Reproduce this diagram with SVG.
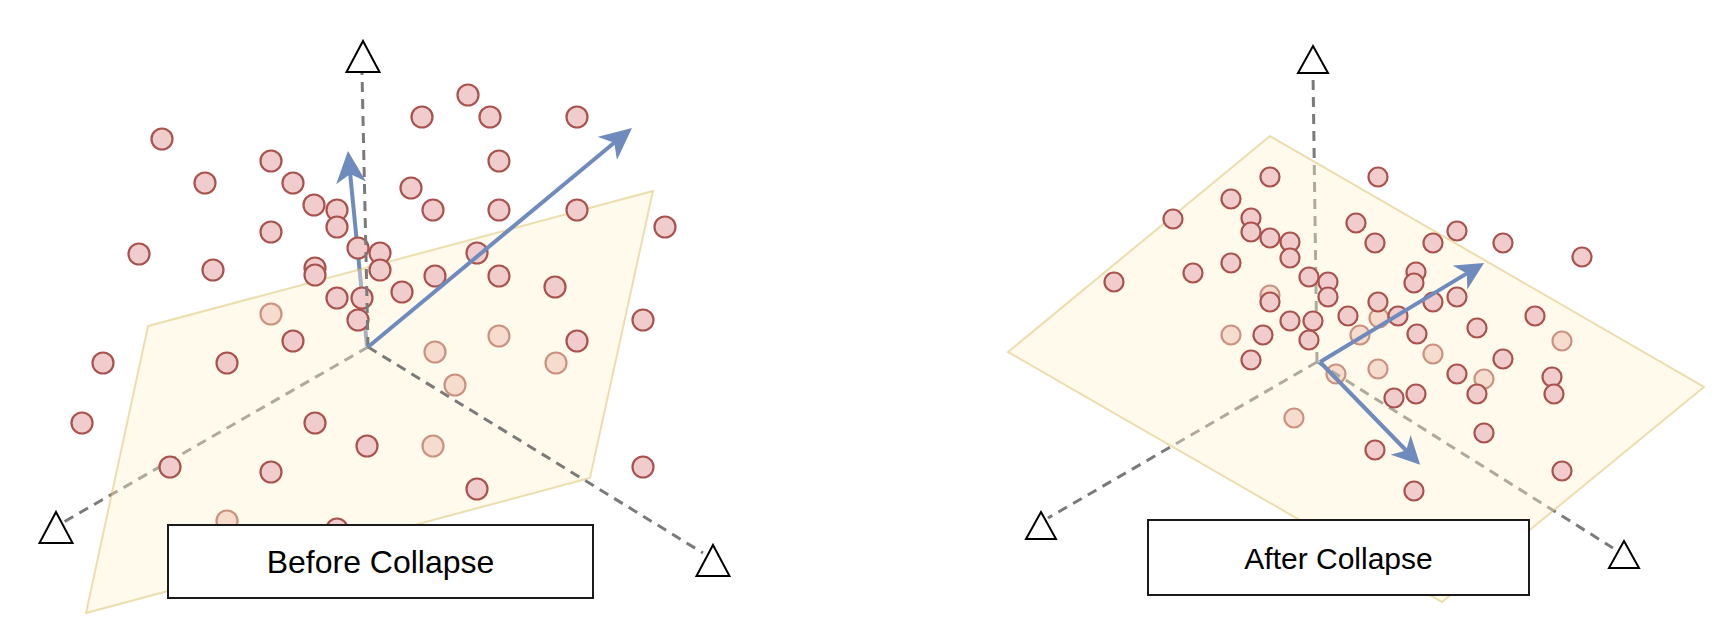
<svg xmlns="http://www.w3.org/2000/svg" width="1728" height="640" viewBox="0 0 1728 640">
<style>
.pt{fill:#f0cdcc;stroke:#a9524e;stroke-width:2.2}
.plane{fill:#fff2cc;fill-opacity:0.4;stroke:#d6b656;stroke-opacity:0.45;stroke-width:2}
.axis{fill:none;stroke:#7a7a7a;stroke-width:3;stroke-dasharray:10 7}
.vec{fill:none;stroke:#6f8bbd;stroke-width:4}
.tri{fill:#ffffff;stroke:#000000;stroke-width:2;stroke-linejoin:miter}
.box{fill:#ffffff;stroke:#1a1a1a;stroke-width:2}
.lbl{font-family:"Liberation Sans",Arial,Helvetica,sans-serif;fill:#000000;text-anchor:middle;dominant-baseline:central}
</style>
<defs>
<marker id="headL" viewBox="0 0 32 30" markerWidth="32" markerHeight="30" refX="12" refY="15" orient="auto" markerUnits="userSpaceOnUse">
<path d="M0,0 L32,15 L0,30 L9,15 z" fill="#6f8bbd"/>
</marker>
<marker id="headR" viewBox="0 0 28 28" markerWidth="28" markerHeight="28" refX="8" refY="14" orient="auto" markerUnits="userSpaceOnUse">
<path d="M0,0 L28,14 L0,28 L8,14 z" fill="#6f8bbd"/>
</marker>
</defs>

<g id="points-behind">
<g id="left-behind">
<circle class="pt" cx="271" cy="314" r="10.5"/>
<circle class="pt" cx="227" cy="521" r="10.5"/>
<circle class="pt" cx="499" cy="336" r="10.5"/>
<circle class="pt" cx="435" cy="352" r="10.5"/>
<circle class="pt" cx="455" cy="385" r="10.5"/>
<circle class="pt" cx="556" cy="363" r="10.5"/>
<circle class="pt" cx="433" cy="446" r="10.5"/>
</g>
<g id="right-behind">
<circle class="pt" cx="1270" cy="295" r="9.5"/>
<circle class="pt" cx="1231" cy="335" r="9.5"/>
<circle class="pt" cx="1360" cy="335" r="9.5"/>
<circle class="pt" cx="1379" cy="318" r="9.5"/>
<circle class="pt" cx="1562" cy="341" r="9.5"/>
<circle class="pt" cx="1433" cy="354" r="9.5"/>
<circle class="pt" cx="1336" cy="374" r="9.5"/>
<circle class="pt" cx="1378" cy="369" r="9.5"/>
<circle class="pt" cx="1484" cy="379" r="9.5"/>
<circle class="pt" cx="1294" cy="418" r="9.5"/>
</g>
</g>

<g id="connectors-back">
<line class="axis" x1="368" y1="347" x2="62" y2="523"/>
<line class="vec" x1="367" y1="346" x2="349.9" y2="170.9" marker-end="url(#headL)"/>
<line class="axis" x1="1317" y1="362" x2="1313" y2="73"/>
<line class="axis" x1="1317" y1="362" x2="1048" y2="518"/>
<line class="axis" x1="1317" y1="362" x2="1613" y2="548"/>
</g>

<g id="plane-before">
<polygon class="plane" points="148,326 653,191 590,478 86,613"/>
</g>
<g id="plane-after">
<polygon class="plane" points="1270,136 1704,387 1442,602 1008,352"/>
</g>

<g id="points-front">
<g id="left-points">
<circle class="pt" cx="162" cy="139" r="10.5"/>
<circle class="pt" cx="205" cy="183" r="10.5"/>
<circle class="pt" cx="271" cy="161" r="10.5"/>
<circle class="pt" cx="293" cy="183" r="10.5"/>
<circle class="pt" cx="314" cy="205" r="10.5"/>
<circle class="pt" cx="337" cy="210" r="10.5"/>
<circle class="pt" cx="337" cy="227" r="10.5"/>
<circle class="pt" cx="271" cy="232" r="10.5"/>
<circle class="pt" cx="139" cy="254" r="10.5"/>
<circle class="pt" cx="213" cy="270" r="10.5"/>
<circle class="pt" cx="315" cy="268" r="10.5"/>
<circle class="pt" cx="315" cy="275" r="10.5"/>
<circle class="pt" cx="358" cy="248" r="10.5"/>
<circle class="pt" cx="380" cy="253" r="10.5"/>
<circle class="pt" cx="380" cy="270" r="10.5"/>
<circle class="pt" cx="337" cy="298" r="10.5"/>
<circle class="pt" cx="362" cy="298" r="10.5"/>
<circle class="pt" cx="402" cy="292" r="10.5"/>
<circle class="pt" cx="435" cy="276" r="10.5"/>
<circle class="pt" cx="358" cy="320" r="10.5"/>
<circle class="pt" cx="293" cy="341" r="10.5"/>
<circle class="pt" cx="227" cy="363" r="10.5"/>
<circle class="pt" cx="103" cy="363" r="10.5"/>
<circle class="pt" cx="82" cy="423" r="10.5"/>
<circle class="pt" cx="315" cy="423" r="10.5"/>
<circle class="pt" cx="170" cy="467" r="10.5"/>
<circle class="pt" cx="271" cy="472" r="10.5"/>
<circle class="pt" cx="367" cy="446" r="10.5"/>
<circle class="pt" cx="477" cy="489" r="10.5"/>
<circle class="pt" cx="643" cy="467" r="10.5"/>
<circle class="pt" cx="337" cy="529" r="10.5"/>
<circle class="pt" cx="422" cy="117" r="10.5"/>
<circle class="pt" cx="468" cy="95" r="10.5"/>
<circle class="pt" cx="490" cy="117" r="10.5"/>
<circle class="pt" cx="577" cy="117" r="10.5"/>
<circle class="pt" cx="499" cy="161" r="10.5"/>
<circle class="pt" cx="411" cy="188" r="10.5"/>
<circle class="pt" cx="433" cy="210" r="10.5"/>
<circle class="pt" cx="499" cy="210" r="10.5"/>
<circle class="pt" cx="577" cy="210" r="10.5"/>
<circle class="pt" cx="665" cy="227" r="10.5"/>
<circle class="pt" cx="477" cy="253" r="10.5"/>
<circle class="pt" cx="499" cy="276" r="10.5"/>
<circle class="pt" cx="555" cy="287" r="10.5"/>
<circle class="pt" cx="643" cy="320" r="10.5"/>
<circle class="pt" cx="577" cy="341" r="10.5"/>
</g>
<g id="right-points">
<circle class="pt" cx="1270" cy="177" r="9.5"/>
<circle class="pt" cx="1231" cy="199" r="9.5"/>
<circle class="pt" cx="1173" cy="219" r="9.5"/>
<circle class="pt" cx="1251" cy="218" r="9.5"/>
<circle class="pt" cx="1251" cy="232" r="9.5"/>
<circle class="pt" cx="1270" cy="238" r="9.5"/>
<circle class="pt" cx="1290" cy="242" r="9.5"/>
<circle class="pt" cx="1290" cy="258" r="9.5"/>
<circle class="pt" cx="1231" cy="263" r="9.5"/>
<circle class="pt" cx="1193" cy="273" r="9.5"/>
<circle class="pt" cx="1114" cy="282" r="9.5"/>
<circle class="pt" cx="1309" cy="277" r="9.5"/>
<circle class="pt" cx="1328" cy="282" r="9.5"/>
<circle class="pt" cx="1328" cy="297" r="9.5"/>
<circle class="pt" cx="1270" cy="302" r="9.5"/>
<circle class="pt" cx="1356" cy="223" r="9.5"/>
<circle class="pt" cx="1378" cy="177" r="9.5"/>
<circle class="pt" cx="1375" cy="243" r="9.5"/>
<circle class="pt" cx="1433" cy="243" r="9.5"/>
<circle class="pt" cx="1457" cy="231" r="9.5"/>
<circle class="pt" cx="1503" cy="243" r="9.5"/>
<circle class="pt" cx="1582" cy="257" r="9.5"/>
<circle class="pt" cx="1416" cy="272" r="9.5"/>
<circle class="pt" cx="1414" cy="283" r="9.5"/>
<circle class="pt" cx="1378" cy="302" r="9.5"/>
<circle class="pt" cx="1433" cy="302" r="9.5"/>
<circle class="pt" cx="1457" cy="297" r="9.5"/>
<circle class="pt" cx="1348" cy="316" r="9.5"/>
<circle class="pt" cx="1398" cy="316" r="9.5"/>
<circle class="pt" cx="1290" cy="321" r="9.5"/>
<circle class="pt" cx="1313" cy="321" r="9.5"/>
<circle class="pt" cx="1309" cy="340" r="9.5"/>
<circle class="pt" cx="1263" cy="335" r="9.5"/>
<circle class="pt" cx="1251" cy="360" r="9.5"/>
<circle class="pt" cx="1417" cy="334" r="9.5"/>
<circle class="pt" cx="1477" cy="328" r="9.5"/>
<circle class="pt" cx="1535" cy="316" r="9.5"/>
<circle class="pt" cx="1503" cy="359" r="9.5"/>
<circle class="pt" cx="1457" cy="374" r="9.5"/>
<circle class="pt" cx="1477" cy="394" r="9.5"/>
<circle class="pt" cx="1552" cy="377" r="9.5"/>
<circle class="pt" cx="1554" cy="394" r="9.5"/>
<circle class="pt" cx="1394" cy="398" r="9.5"/>
<circle class="pt" cx="1416" cy="394" r="9.5"/>
<circle class="pt" cx="1484" cy="433" r="9.5"/>
<circle class="pt" cx="1375" cy="450" r="9.5"/>
<circle class="pt" cx="1414" cy="491" r="9.5"/>
<circle class="pt" cx="1562" cy="471" r="9.5"/>
</g>
</g>

<g id="connectors-front">
<line class="axis" x1="368" y1="347" x2="362" y2="73"/>
<line class="axis" x1="368" y1="347" x2="703" y2="553"/>
<line class="vec" x1="368" y1="347" x2="616.6" y2="140.8" marker-end="url(#headL)"/>
<line class="vec" x1="1320" y1="362" x2="1466.9" y2="273.4" marker-end="url(#headR)"/>
<line class="vec" x1="1320" y1="362" x2="1406.2" y2="450.5" marker-end="url(#headR)"/>
</g>

<g id="axis-end-left-top"><polygon class="tri" points="363,41 379.5,72 346.5,72"/></g>
<g id="axis-end-left-lowleft"><polygon class="tri" points="56,512 72.5,543 39.5,543"/></g>
<g id="axis-end-left-lowright"><polygon class="tri" points="713,545 729.5,576 696.5,576"/></g>
<g id="axis-end-right-top"><polygon class="tri" points="1313,46 1328,73 1298,73"/></g>
<g id="axis-end-right-lowleft"><polygon class="tri" points="1041,512 1056,539 1026,539"/></g>
<g id="axis-end-right-lowright"><polygon class="tri" points="1624,541 1639,568 1609,568"/></g>

<g id="label-before">
<rect class="box" x="168" y="525" width="425" height="73"/>
<text class="lbl" x="380.5" y="562" font-size="32">Before Collapse</text>
</g>
<g id="label-after">
<rect class="box" x="1148" y="520" width="381" height="75"/>
<text class="lbl" x="1338.5" y="558" font-size="30">After Collapse</text>
</g>
</svg>
